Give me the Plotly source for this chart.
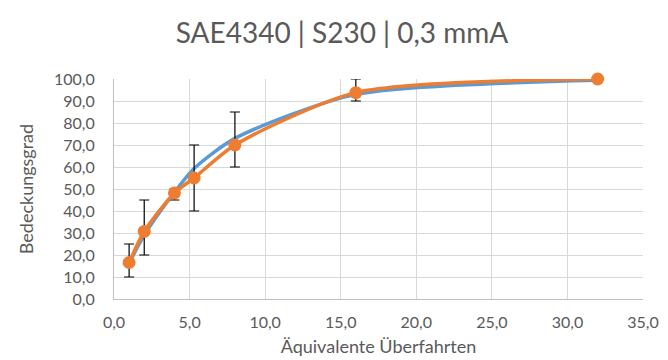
import plotly.graph_objects as go

# Data
x_vals = [1.0, 2.0, 4.0, 5.3, 8.0, 16.0, 32.0]
measured = [16.6, 30.7, 48.2, 55.0, 70.0, 93.8, 100.0]
err_low = [10.0, 20.0, 45.0, 40.0, 60.0, 90.0, None]
err_high = [25.0, 45.0, 50.0, 70.0, 85.0, 100.0, None]
fit_vals = [16.2, 29.0, 48.5, 59.3, 73.0, 93.0, 99.4]

x_ticks = [0, 5, 10, 15, 20, 25, 30, 35]
y_ticks = [0, 10, 20, 30, 40, 50, 60, 70, 80, 90, 100]

plus = [None if h is None else h - m for h, m in zip(err_high, measured)]
minus = [None if l is None else m - l for l, m in zip(err_low, measured)]

BLUE = "#5B9BD5"
ORANGE = "#ED7D31"
GRAY = "#595959"
FONT = "Lato, Open Sans, sans-serif"

fig = go.Figure()
fig.add_trace(go.Scatter(
    x=x_vals, y=fit_vals, mode="lines",
    line=dict(color=BLUE, width=3.5, shape="spline", smoothing=0.7),
    showlegend=False, hoverinfo="skip", cliponaxis=False,
))
fig.add_trace(go.Scatter(
    x=x_vals, y=measured, mode="lines+markers",
    line=dict(color=ORANGE, width=3.5, shape="spline", smoothing=0.7),
    marker=dict(color=ORANGE, size=13),
    error_y=dict(type="data", symmetric=False, array=plus, arrayminus=minus,
                 color="#000000", thickness=1.2, width=5),
    showlegend=False, cliponaxis=False,
))

fig.update_layout(
    width=668, height=360,
    margin=dict(l=106, r=33, t=71, b=69),
    paper_bgcolor="white", plot_bgcolor="white",
    font=dict(family=FONT, color=GRAY, size=16),
    title=dict(text="SAE4340 | S230 | 0,3 mmA", x=0.5, xanchor="center",
               y=1 - 25 / 360, yanchor="middle",
               font=dict(family=FONT, size=28, color=GRAY)),
    separators=",.",
)
fig.update_xaxes(
    range=[0, 35], tickvals=x_ticks, tickformat=".1f",
    showgrid=True, gridcolor="#D9D9D9", gridwidth=1,
    showline=True, linecolor="#BFBFBF", linewidth=1, mirror=False,
    zeroline=False, ticks="", ticklen=0, ticklabelstandoff=9,
    tickfont=dict(size=16, color=GRAY),
    title=dict(text="Äquivalente Überfahrten", font=dict(size=18, color=GRAY), standoff=10),
)
fig.update_yaxes(
    range=[0, 100], tickvals=y_ticks, tickformat=".1f",
    showgrid=True, gridcolor="#D9D9D9", gridwidth=1,
    showline=True, linecolor="#BFBFBF", linewidth=1,
    zeroline=False, ticks="", ticklen=0, ticklabelstandoff=15,
    tickfont=dict(size=16, color=GRAY),
    title=dict(text="Bedeckungsgrad", font=dict(size=18, color=GRAY), standoff=15),
)

fig.write_html("out.html")
